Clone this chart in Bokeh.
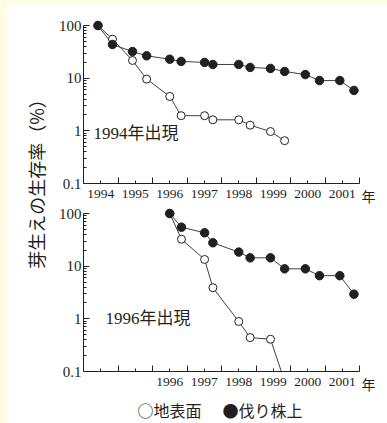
from bokeh.plotting import figure
from bokeh.layouts import row, column
from bokeh.models import Range1d, FixedTicker, Label, Spacer
from bokeh.embed import file_html
from bokeh.resources import INLINE

# ---------------- data ----------------
year_labels = ["1994", "1995", "1996", "1997", "1998", "1999", "2000", "2001"]
year_label_pos = [1994.5, 1995.5, 1996.5, 1997.5, 1998.5, 1999.5, 2000.5, 2001.5]
year_bounds = [1995, 1996, 1997, 1998, 1999, 2000, 2001, 2002]

y_ticks = [0.1, 1, 10, 100]
y_tick_labels = ["0.1", "1", "10", "100"]

# 1994 cohort
dates_94 = [1994.42, 1994.84, 1995.42, 1995.83, 1996.50, 1996.83, 1997.51, 1997.75,
            1998.50, 1998.83, 1999.42, 1999.83, 2000.43, 2000.84, 2001.43, 2001.84]
stump_94 = [100, 43.6, 32, 26.6, 22.9, 20.8, 19.9, 18.2, 18.2, 16.0, 15.3, 13.4,
            11.7, 9.0, 9.0, 5.85]
ground_94 = [100, 55, 21.7, 9.6, 4.5, 1.94, 1.94, 1.62, 1.62, 1.28, 0.97, 0.65]

# 1996 cohort
dates_96 = [1996.50, 1996.84, 1997.51, 1997.75, 1998.50, 1998.83, 1999.42, 1999.83,
            2000.43, 2000.84, 2001.43, 2001.84]
stump_96 = [100, 55, 43, 27.8, 18.5, 14.4, 14.4, 8.9, 8.9, 6.6, 6.6, 2.94]
ground_96 = [100, 32.5, 13.4, 3.9, 0.89, 0.44, 0.41, 0.065]

panel_titles = ["1994年出現", "1996年出現"]
y_title = "芽生えの生存率（%）"
legend_ground = "○地表面"
legend_stump = "●伐り株上"
x_unit = "年"

INK = "#231f20"
LINE = "#404040"
YELLOW = "#fffce3"
CJK = "Noto Sans CJK JP"
SERIF = "Liberation Serif"
MIXED = "'Liberation Serif', 'Noto Sans CJK JP'"

y_minor = [m * 10.0 ** e for e in (-1, 0, 1) for m in range(2, 10)]


def blank(w, h):
    f = figure(width=w, height=h, x_range=Range1d(0, 1), y_range=Range1d(0, 1),
               output_backend="svg", toolbar_location=None, min_border=0,
               x_axis_location=None, y_axis_location=None, outline_line_color=None,
               background_fill_color="white", border_fill_color="white")
    f.grid.visible = False
    return f


def make_panel(h, top, bottom, labels_shown):
    p = figure(width=308, height=h, x_range=Range1d(1994, 2002),
               y_range=Range1d(0.1, 130), y_axis_type="log",
               output_backend="svg", toolbar_location=None,
               min_border_left=30, min_border_right=2,
               min_border_top=top, min_border_bottom=bottom,
               background_fill_color="white", border_fill_color="white",
               outline_line_color=None)
    p.grid.visible = False
    ya = p.yaxis[0]
    ya.ticker = FixedTicker(ticks=y_ticks, minor_ticks=y_minor)
    ya.major_label_overrides = dict(zip(y_ticks, y_tick_labels))
    ya.bounds = (0.1, 100)
    ya.major_tick_in = 6
    ya.major_tick_out = 0
    ya.minor_tick_in = 3
    ya.minor_tick_out = 0
    ya.major_label_standoff = 2
    ya.major_label_text_font = SERIF
    ya.major_label_text_font_size = "15px"
    xa = p.xaxis[0]
    xa.ticker = FixedTicker(ticks=year_label_pos, minor_ticks=year_bounds)
    xa.major_label_overrides = {pos: (lab if lab in labels_shown else "")
                                for pos, lab in zip(year_label_pos, year_labels)}
    xa.major_tick_in = 3
    xa.major_tick_out = 0
    xa.minor_tick_in = 6
    xa.minor_tick_out = 0
    xa.major_label_standoff = 6
    xa.major_label_text_font = SERIF
    xa.major_label_text_font_size = "13.5px"
    for ax in (xa, ya):
        ax.axis_line_color = INK
        ax.axis_line_width = 1
        ax.major_tick_line_color = INK
        ax.minor_tick_line_color = INK
        ax.major_label_text_color = INK
    return p


def draw(p, xg, yg, xs, ys):
    p.line(xg, yg, line_color=LINE, line_width=1)
    p.line(xs, ys, line_color=LINE, line_width=1)
    p.scatter(xg, yg, size=8, fill_color="white", line_color=INK, line_width=1)
    p.scatter(xs, ys, size=8.5, fill_color=INK, line_color=INK, line_width=1)


p1 = make_panel(201, 14, 23, year_labels)
draw(p1, dates_94[:len(ground_94)], ground_94, dates_94, stump_94)
p1.add_layout(Label(x=10, y=50, x_units="screen", y_units="screen", text=panel_titles[0],
                    text_font=MIXED, text_font_size="17px",
                    text_color=INK, text_baseline="middle"))

p2 = make_panel(189, 1, 24, year_labels[2:])
draw(p2, dates_96[:len(ground_96)], ground_96, dates_96, stump_96)
p2.add_layout(Label(x=22, y=53, x_units="screen", y_units="screen", text=panel_titles[1],
                    text_font=MIXED, text_font_size="17px",
                    text_color=INK, text_baseline="middle"))

# y title
lab = blank(46, 390)
lab.add_layout(Label(x=28, y=216, x_units="screen", y_units="screen", angle=90,
                     angle_units="deg", text=y_title, text_font=CJK,
                     text_font_size="18px", text_color=INK,
                     text_align="center", text_baseline="middle"))

# "年" after the x axes
yr = blank(26, 390)
for ypos in (200, 12):
    yr.add_layout(Label(x=0, y=ypos, x_units="screen", y_units="screen", text=x_unit,
                        text_font=CJK, text_font_size="14px", text_color=INK,
                        text_baseline="middle"))

# legend line
leg = blank(380, 28)
leg.add_layout(Label(x=130, y=14, x_units="screen", y_units="screen", text=legend_ground,
                     text_font=CJK, text_font_size="16px", text_color=INK,
                     text_baseline="middle"))
leg.add_layout(Label(x=215, y=14, x_units="screen", y_units="screen", text=legend_stump,
                     text_font=CJK, text_font_size="16px", text_color=INK,
                     text_baseline="middle"))

left_strip = Spacer(width=7, height=423, styles={"background-color": YELLOW})
top_strip = Spacer(width=380, height=5, styles={"background-color": YELLOW})

layout = row(left_strip,
             column(top_strip, row(lab, column(p1, p2), yr), leg))

open("out.html", "w").write(file_html(layout, INLINE))
